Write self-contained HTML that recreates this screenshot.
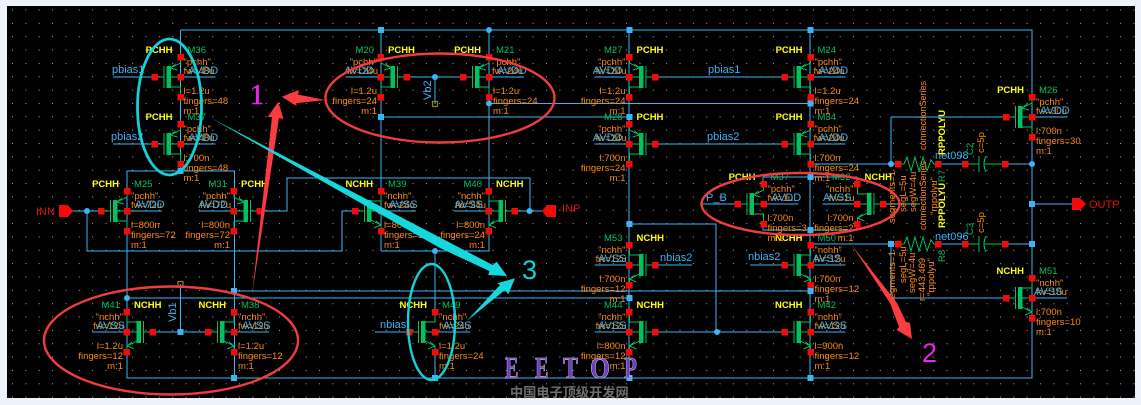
<!DOCTYPE html>
<html><head><meta charset="utf-8"><style>
html,body{margin:0;padding:0;background:#eef2fb;width:1141px;height:405px;overflow:hidden}
svg{display:block}
text{font-family:"Liberation Sans","Noto Sans CJK SC",sans-serif}
text.serif{font-family:"Liberation Serif",serif}
.o{fill:#ff8a14;font-size:9.5px}
.b{fill:#3fb2f4;font-size:11px}
.y{fill:#ffff14;font-size:9.5px;font-weight:bold}
.g{fill:#00c060;font-size:9.5px}
.r{fill:#e01010;font-size:11px}
.R text{text-anchor:start}.R .y{text-anchor:end}
.L text{text-anchor:end}.L .y{text-anchor:start}
.crisp{shape-rendering:crispEdges}
.eet{font-size:31px;font-weight:bold;fill:#6b3bc4;stroke:#d4cce6;stroke-width:0.6}
</style></head><body>
<svg width="1141" height="405" viewBox="0 0 1141 405" xmlns="http://www.w3.org/2000/svg">
<defs>
<pattern id="dots" x="12" y="9.5" width="13.35" height="13.35" patternUnits="userSpaceOnUse"><rect width="1" height="1" fill="#aab"/></pattern>
<g id="sq"><rect x="-3.2" y="-3.2" width="6.5" height="6.5" fill="#f50a0a"/></g>
<g id="p" class="crisp">
<path d="M0 0H35" stroke="#3cb4f6" fill="none"/>
<path d="M-26 0H-17M-16.5 -11V11M0 0H-10M-10 10H0V20M-10 -9L0 -14V-20M-5 -13L-10 -9L-3 -7" stroke="#00c060" fill="none"/>
<rect x="-14" y="-11" width="4.5" height="22" fill="#00c060"/>
<use href="#sq" y="-20"/><use href="#sq"/><use href="#sq" y="20"/><use href="#sq" x="-26"/>
</g>
<g id="n" class="crisp">
<path d="M0 0H35" stroke="#3cb4f6" fill="none"/>
<path d="M-26 0H-17M-16.5 -11V11M0 0H-10M-10 -10H0V-20M-10 9L0 14V20M-5 10L0 14L-7 17" stroke="#00c060" fill="none"/>
<rect x="-14" y="-11" width="4.5" height="22" fill="#00c060"/>
<use href="#sq" y="-20"/><use href="#sq"/><use href="#sq" y="20"/><use href="#sq" x="-26"/>
</g>
</defs>
<rect x="7" y="6" width="1128" height="392" fill="#000"/>
<rect x="7" y="6" width="1128" height="392" fill="url(#dots)"/>

<!-- wires -->
<path class="crisp" fill="none" stroke="#3cb4f6" stroke-width="1" d="
M180.5 30H1032V378H127V171H234.5V378
M180.5 30V171
M113 77H154M113 144H154
M72 211H100M87 211V251H342V211H355
M261 211H287V178H530V211M516 211H545
M234.5 291H810M127 298H629
M180.5 284V332M154 332H207
M381 30V231M381 117H629
M489 30V231M489 103.5H810
M408 77H462M435 77V104
M381 251V231M381 251H489V231M435 251V312M435 352V378M375 332H408
M629 30V378M629 224H716V332M656 332H784
M656 77H784M656 144H784
M656 265H692M750 265H784
M810 30V378M763 177H857M763 177V184M857 177V184M763 224V230H857V224
M700 204H737M884 204H920
M810 164H898M891 117V164M891 117H1005
M810 244H898M891 244V298H1005
M938 164H965M1005 164H1032M938 244H965M1005 244H1032
M1032 204H1072"/>

<!-- resistors & caps -->
<path class="crisp" fill="none" stroke="#00c060" d="
M898 164H904L907 157L911 171L915 157L919 171L923 157L927 171L931 160L934 164H938
M898 244H904L907 237L911 251L915 237L919 251L923 237L927 251L931 240L934 244H938
M965 164H979M979 156V172M986 156Q982 164 986 172M984 164H1005
M965 244H979M979 236V252M986 236Q982 244 986 252M984 244H1005"/>
<g class="crisp">
<use href="#sq" x="898" y="164"/><use href="#sq" x="938" y="164"/><use href="#sq" x="965" y="164"/><use href="#sq" x="1005" y="164"/>
<use href="#sq" x="898" y="244"/><use href="#sq" x="938" y="244"/><use href="#sq" x="965" y="244"/><use href="#sq" x="1005" y="244"/>
</g>

<!-- transistors -->
<g class="R" transform="translate(180.5,77)"><use href="#p"/><text class="y" x="-8" y="-24">PCHH</text><text class="g" x="7" y="-24">M36</text><text class="o" x="3" y="-12">"pchh"</text><text class="o" x="3" y="-3">fw=48u</text><text class="b" x="8" y="-3">AVDD</text><text class="o" x="3" y="17">l=1.2u</text><text class="o" x="3" y="27">fingers=48</text><text class="o" x="3" y="37">m:1</text></g>
<g class="R" transform="translate(180.5,144)"><use href="#p"/><text class="y" x="-8" y="-24">PCHH</text><text class="g" x="7" y="-24">M37</text><text class="o" x="3" y="-12">"pchh"</text><text class="o" x="3" y="-3">fw=48u</text><text class="b" x="8" y="-3">AVDD</text><text class="o" x="3" y="17">l:700n</text><text class="o" x="3" y="27">fingers=48</text><text class="o" x="3" y="37">m:1</text></g>
<g class="R" transform="translate(127,211)"><use href="#p"/><text class="y" x="-8" y="-24">PCHH</text><text class="g" x="7" y="-24">M25</text><text class="o" x="4" y="-12">"pchh"</text><text class="o" x="4" y="-3">fw=72u</text><text class="b" x="8" y="-3">AVDD</text><text class="o" x="4" y="17">l=800n</text><text class="o" x="4" y="27">fingers=72</text><text class="o" x="4" y="37">m:1</text></g>
<g class="L" transform="translate(234,211)"><use href="#p" transform="scale(-1,1)"/><text class="y" x="7" y="-24">PCHH</text><text class="g" x="-7" y="-24">M31</text><text class="o" x="-4" y="-12">"pchh"</text><text class="o" x="-3" y="-3">fw=72u</text><text class="b" x="-6" y="-3">AVDD</text><text class="o" x="-4" y="17">l=800n</text><text class="o" x="-4" y="27">fingers=72</text><text class="o" x="-4" y="37">m:1</text></g>
<g class="L" transform="translate(381,77)"><use href="#p" transform="scale(-1,1)"/><text class="y" x="7" y="-24">PCHH</text><text class="g" x="-7" y="-24">M20</text><text class="o" x="-4" y="-12">"pchh"</text><text class="o" x="-3" y="-3">fw=24u</text><text class="b" x="-7" y="-3">AVDD</text><text class="o" x="-4" y="17">l=1.2u</text><text class="o" x="-4" y="27">fingers=24</text><text class="o" x="-4" y="37">m:1</text></g>
<g class="R" transform="translate(489,77)"><use href="#p"/><text class="y" x="-8" y="-24">PCHH</text><text class="g" x="7" y="-24">M21</text><text class="o" x="4" y="-12">"pchh"</text><text class="o" x="3" y="-3">fw=24u</text><text class="b" x="8" y="-3">AVDD</text><text class="o" x="4" y="17">l=1.2u</text><text class="o" x="4" y="27">fingers=24</text><text class="o" x="4" y="37">m:1</text></g>
<g class="R" transform="translate(381,211)"><use href="#n"/><text class="y" x="-8" y="-24">NCHH</text><text class="g" x="7" y="-24">M39</text><text class="o" x="3" y="-12">"nchh"</text><text class="o" x="3" y="-3">fw=24u</text><text class="b" x="8" y="-3">AVSS</text><text class="o" x="3" y="17">l=800n</text><text class="o" x="3" y="27">fingers=24</text><text class="o" x="3" y="37">m:1</text></g>
<g class="L" transform="translate(489,211)"><use href="#n" transform="scale(-1,1)"/><text class="y" x="7" y="-24">NCHH</text><text class="g" x="-7" y="-24">M40</text><text class="o" x="-4" y="-12">"nchh"</text><text class="o" x="-3" y="-3">fw=24u</text><text class="b" x="-6" y="-3">AVSS</text><text class="o" x="-4" y="17">l=800n</text><text class="o" x="-4" y="27">fingers=24</text><text class="o" x="-4" y="37">m:1</text></g>
<g class="L" transform="translate(127,332)"><use href="#n" transform="scale(-1,1)"/><text class="y" x="7" y="-24">NCHH</text><text class="g" x="-7" y="-24">M41</text><text class="o" x="-4" y="-12">"nchh"</text><text class="o" x="-3" y="-3">fw=12u</text><text class="b" x="-2" y="-3">AVSS</text><text class="o" x="-4" y="17">l=1.2u</text><text class="o" x="-4" y="27">fingers=12</text><text class="o" x="-4" y="37">m:1</text></g>
<g class="R" transform="translate(234,332)"><use href="#n"/><text class="y" x="-8" y="-24">NCHH</text><text class="g" x="7" y="-24">M38</text><text class="o" x="4" y="-12">"nchh"</text><text class="o" x="4" y="-3">fw=12u</text><text class="b" x="8" y="-3">AVSS</text><text class="o" x="4" y="17">l=1.2u</text><text class="o" x="4" y="27">fingers=12</text><text class="o" x="4" y="37">m:1</text></g>
<g class="R" transform="translate(435,332)"><use href="#n"/><text class="y" x="-8" y="-24">NCHH</text><text class="g" x="7" y="-24">M49</text><text class="o" x="4" y="-12">"nchh"</text><text class="o" x="4" y="-3">fw=24u</text><text class="b" x="8" y="-3">AVSS</text><text class="o" x="4" y="17">l=1.2u</text><text class="o" x="4" y="27">fingers=24</text><text class="o" x="4" y="37">m:1</text></g>
<g class="L" transform="translate(629.5,77)"><use href="#p" transform="scale(-1,1)"/><text class="y" x="7" y="-24">PCHH</text><text class="g" x="-7" y="-24">M27</text><text class="o" x="-4" y="-12">"pchh"</text><text class="o" x="-3" y="-3">fw=24u</text><text class="b" x="-7" y="-3">AVDD</text><text class="o" x="-4" y="17">l=1.2u</text><text class="o" x="-4" y="27">fingers=24</text><text class="o" x="-4" y="37">m:1</text></g>
<g class="L" transform="translate(629.5,144)"><use href="#p" transform="scale(-1,1)"/><text class="y" x="7" y="-24">PCHH</text><text class="g" x="-7" y="-24">M28</text><text class="o" x="-4" y="-12">"pchh"</text><text class="o" x="-3" y="-3">fw=24u</text><text class="b" x="-7" y="-3">AVDD</text><text class="o" x="-4" y="17">l:700n</text><text class="o" x="-4" y="27">fingers=24</text><text class="o" x="-4" y="37">m:1</text></g>
<g class="R" transform="translate(810.5,77)"><use href="#p"/><text class="y" x="-8" y="-24">PCHH</text><text class="g" x="7" y="-24">M24</text><text class="o" x="4" y="-12">"pchh"</text><text class="o" x="3" y="-3">fw=24u</text><text class="b" x="8" y="-3">AVDD</text><text class="o" x="4" y="17">l=1.2u</text><text class="o" x="4" y="27">fingers=24</text><text class="o" x="4" y="37">m:1</text></g>
<g class="R" transform="translate(810.5,144)"><use href="#p"/><text class="y" x="-8" y="-24">PCHH</text><text class="g" x="7" y="-24">M34</text><text class="o" x="4" y="-12">"pchh"</text><text class="o" x="3" y="-3">fw=24u</text><text class="b" x="8" y="-3">AVDD</text><text class="o" x="4" y="17">l:700n</text><text class="o" x="4" y="27">fingers=24</text><text class="o" x="4" y="37">m:1</text></g>
<g class="L" transform="translate(629.5,265)"><use href="#n" transform="scale(-1,1)"/><text class="y" x="7" y="-24">NCHH</text><text class="g" x="-7" y="-24">M53</text><text class="o" x="-4" y="-12">"nchh"</text><text class="o" x="-3" y="-3">fw=12u</text><text class="b" x="-3" y="-3">AVSS</text><text class="o" x="-4" y="17">l:700n</text><text class="o" x="-4" y="27">fingers=12</text><text class="o" x="-4" y="37">m:1</text></g>
<g class="L" transform="translate(629.5,332)"><use href="#n" transform="scale(-1,1)"/><text class="y" x="7" y="-24">NCHH</text><text class="g" x="-7" y="-24">M44</text><text class="o" x="-4" y="-12">"nchh"</text><text class="o" x="-3" y="-3">fw=12u</text><text class="b" x="-3" y="-3">AVSS</text><text class="o" x="-4" y="17">l=800n</text><text class="o" x="-4" y="27">fingers=12</text><text class="o" x="-4" y="37">m:1</text></g>
<g class="R" transform="translate(810.5,265)"><use href="#n"/><text class="y" x="-8" y="-24">NCHH</text><text class="g" x="7" y="-24">M50</text><text class="o" x="4" y="-12">"nchh"</text><text class="o" x="4" y="-3">fw=12u</text><text class="b" x="2" y="-3">AVSS</text><text class="o" x="4" y="17">l:700n</text><text class="o" x="4" y="27">fingers=12</text><text class="o" x="4" y="37">m:1</text></g>
<g class="R" transform="translate(810.5,332)"><use href="#n"/><text class="y" x="-8" y="-24">NCHH</text><text class="g" x="7" y="-24">M42</text><text class="o" x="4" y="-12">"nchh"</text><text class="o" x="4" y="-3">fw=12u</text><text class="b" x="8" y="-3">AVSS</text><text class="o" x="4" y="17">l=900n</text><text class="o" x="4" y="27">fingers=12</text><text class="o" x="4" y="37">m:1</text></g>
<g class="R" transform="translate(763.5,204)"><use href="#p"/><text class="y" x="-8" y="-24">PCHH</text><text class="g" x="7" y="-24">M37</text><text class="o" x="4" y="-12">"pchh"</text><text class="o" x="4" y="-3">fw=1u</text><text class="b" x="8" y="-3">AVDD</text><text class="o" x="4" y="17">l:700n</text><text class="o" x="4" y="27">fingers=3</text><text class="o" x="4" y="37">m:1</text></g>
<g class="L" transform="translate(857.5,204)"><use href="#n" transform="scale(-1,1)"/><text class="y" x="7" y="-24">NCHH</text><text class="g" x="-7" y="-24">M32</text><text class="o" x="-4" y="-12">"nchh"</text><text class="o" x="-3" y="-3">fw=1u</text><text class="b" x="-6" y="-3">AVSS</text><text class="o" x="-4" y="17">l:700n</text><text class="o" x="-4" y="27">fingers=2</text><text class="o" x="-4" y="37">m:1</text></g>
<g class="R" transform="translate(1032,117)"><use href="#p"/><text class="y" x="-8" y="-24">PCHH</text><text class="g" x="7" y="-24">M26</text><text class="o" x="4" y="-12">"pchh"</text><text class="o" x="4" y="-3">fw=30u</text><text class="b" x="8" y="-3">AVDD</text><text class="o" x="4" y="17">l:700n</text><text class="o" x="4" y="27">fingers=30</text><text class="o" x="4" y="37">m:1</text></g>
<g class="R" transform="translate(1032,298)"><use href="#n"/><text class="y" x="-8" y="-24">NCHH</text><text class="g" x="7" y="-24">M51</text><text class="o" x="4" y="-12">"nchh"</text><text class="o" x="4" y="-3">fw=10u</text><text class="b" x="2" y="-3">AVSS</text><text class="o" x="4" y="17">l:700n</text><text class="o" x="4" y="27">fingers=10</text><text class="o" x="4" y="37">m:1</text></g>

<!-- junctions -->
<g fill="#3cb4f6">
<circle cx="87" cy="211" r="3"/><circle cx="127" cy="298" r="3"/><circle cx="435" cy="77" r="3"/><circle cx="489" cy="30" r="3"/><circle cx="489" cy="103.5" r="3"/><circle cx="435" cy="251" r="3"/><circle cx="529.5" cy="211" r="3"/><circle cx="717" cy="332" r="3"/><circle cx="891" cy="164" r="3"/><circle cx="1032" cy="164" r="3"/>
<rect x="177.5" y="329" width="6" height="6"/><rect x="177.5" y="168" width="6" height="6"/><rect x="231" y="288" width="6" height="6"/><rect x="231" y="375" width="6" height="6"/>
<rect x="378" y="27" width="6" height="6"/><rect x="378" y="114" width="6" height="6"/><rect x="432" y="375" width="6" height="6"/>
<rect x="626.5" y="27" width="6" height="6"/><rect x="626.5" y="114" width="6" height="6"/><rect x="626.5" y="221" width="6" height="6"/><rect x="626.5" y="295" width="6" height="6"/><rect x="626.5" y="375" width="6" height="6"/>
<rect x="807.5" y="27" width="6" height="6"/><rect x="807.5" y="100.5" width="6" height="6"/><rect x="807.5" y="174" width="6" height="6"/><rect x="807.5" y="227" width="6" height="6"/><rect x="807.5" y="288" width="6" height="6"/><rect x="807.5" y="375" width="6" height="6"/>
<rect x="888" y="241" width="6" height="6"/><rect x="1029" y="201" width="6" height="6"/><rect x="1029" y="241" width="6" height="6"/>
</g>
<rect x="178" y="281.5" width="5" height="5" fill="none" stroke="#8a8a10" stroke-width="1.2"/>
<rect x="432.5" y="101.5" width="5" height="5" fill="none" stroke="#8a8a10" stroke-width="1.2"/>

<!-- pins -->
<path fill="#f50a0a" d="M59 205H68L73 211L68 217H59ZM556 205H547L542 211L547 217H556ZM1072 198H1080L1086 204L1080 210H1072Z"/>
<text class="r" x="36" y="215">INN</text><text class="r" x="562" y="212">INP</text><text class="r" x="1089" y="208">OUTP</text>

<!-- net labels -->
<g>
<text class="b" x="112" y="73">pbias1</text><text class="b" x="111" y="140">pbias2</text>
<text class="b" x="708" y="73">pbias1</text><text class="b" x="707" y="140">pbias2</text>
<text class="b" x="380" y="328">nbias</text><text class="b" x="660" y="261">nbias2</text><text class="b" x="748" y="260">nbias2</text>
<text class="b" x="706" y="201">P_B</text>
<text class="b" x="935" y="159">net098</text><text class="b" x="935" y="240">net096</text>
<text class="b" transform="translate(176,322) rotate(-90)">Vb1</text>
<text class="b" transform="translate(431,100) rotate(-90)">Vb2</text>
</g>

<!-- rotated resistor / cap labels -->
<g>
<text class="o" transform="translate(926,150) rotate(-90)" style="font-size:9px">connectionSeries</text>
<text class="y" transform="translate(945,155) rotate(-90)">RPPOLYU</text>
<text class="g" transform="translate(945,182) rotate(-90)">R7</text>
<text class="g" transform="translate(973,155) rotate(-90)">C2</text>
<text class="o" transform="translate(984,153) rotate(-90)">c=5p</text>
<text class="o" transform="translate(895,223) rotate(-90)">segments=1</text>
<text class="o" transform="translate(906,212) rotate(-90)">segL=5u</text>
<text class="o" transform="translate(916,212) rotate(-90)">segW=4u</text>
<text class="o" transform="translate(926,230) rotate(-90)" style="font-size:9px">connectionSeries</text>
<text class="o" transform="translate(937,215) rotate(-90)">"rppolyu"</text>
<text class="y" transform="translate(945,228) rotate(-90)">RPPOLYU</text>
<text class="g" transform="translate(945,262) rotate(-90)">R8</text>
<text class="g" transform="translate(973,235) rotate(-90)">C3</text>
<text class="o" transform="translate(984,233) rotate(-90)">c=5p</text>
<text class="o" transform="translate(895,303) rotate(-90)">segments=1</text>
<text class="o" transform="translate(906,283) rotate(-90)">segL=5u</text>
<text class="o" transform="translate(915,293) rotate(-90)">segW=4u</text>
<text class="o" transform="translate(925,301) rotate(-90)">r=443.469</text>
<text class="o" transform="translate(934,296) rotate(-90)">"rppolyu"</text>
</g>

<!-- annotation ellipses -->
<g fill="none">
<ellipse cx="169.5" cy="107" rx="32" ry="68" stroke="#15d0d6" stroke-width="2.8"/>
<ellipse cx="431.5" cy="322" rx="23.5" ry="58" stroke="#15d0d6" stroke-width="2.4"/>
<ellipse cx="440" cy="98" rx="114.5" ry="44.5" stroke="#f13c3e" stroke-width="2.4"/>
<ellipse cx="171" cy="340.5" rx="127" ry="54" stroke="#f13c3e" stroke-width="2.4"/>
<ellipse cx="800.5" cy="204" rx="99" ry="31" stroke="#f13c3e" stroke-width="2.4"/>
</g>
<!-- annotation arrows -->
<path fill="#f93c40" d="M278.3 101.7L283.5 119L279 118L252 295L272 117L267.7 117Z"/>
<path fill="#f93c40" d="M281.7 96.7L299 90L298 94.5L325 100L296 103.3L296.7 106Z"/>
<path fill="#f93c40" d="M851 244L897 303L906 322L910 322.7L912 339L896.7 330L899 327L890 303Z"/>
<path fill="#15d8dc" d="M210 117.5L492.7 265L496.7 261.7L507 276L488.3 275L489.3 271L440 248Z"/>
<path fill="#15d8dc" d="M466.7 321L500 285L497.3 283.3L515 278.3L508.3 294.3L505 290Z"/>

<text class="serif" x="250" y="104" style="font-size:28px;stroke:#e628e6;stroke-width:0.5" fill="#e628e6">1</text>
<text x="922" y="362" style="font-size:27px" fill="#e628e6">2</text>
<text x="522" y="279" style="font-size:27px" fill="#15d0d6">3</text>

<text class="serif eet" transform="translate(505,378) scale(.65,1)">E</text>
<text class="serif eet" transform="translate(535,378) scale(.65,1)">E</text>
<text class="serif eet" transform="translate(563,378) scale(.72,1)">T</text>
<text class="serif eet" transform="translate(590,378) scale(.83,1)">O</text>
<text class="serif eet" transform="translate(624,378) scale(.68,1)">P</text>
<text x="510" y="397" fill="#6e6e6e" style="font-size:13.2px;font-weight:bold">中国电子顶级开发网</text>
</svg>
</body></html>
